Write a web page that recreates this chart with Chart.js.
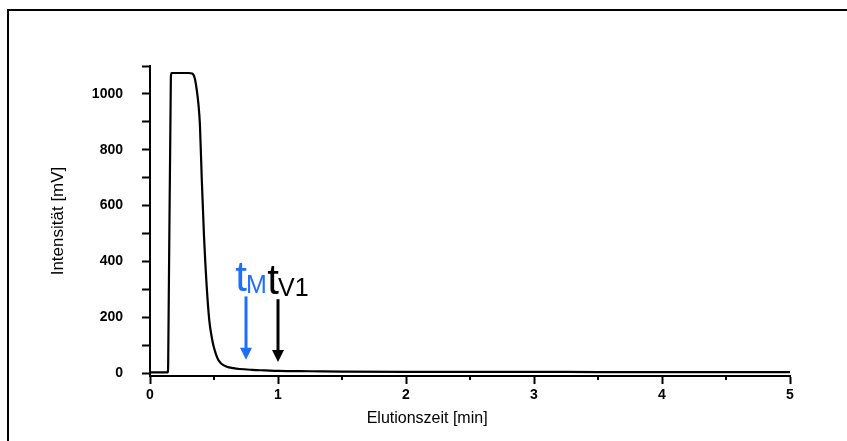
<!DOCTYPE html>
<html>
<head>
<meta charset="utf-8">
<script src="https://cdn.jsdelivr.net/npm/chart.js@4.4.1/dist/chart.umd.min.js"></script>
<style>
    html, body { margin: 0; padding: 0; background: #fff; }
    #wrap { position: relative; width: 847px; height: 441px; overflow: hidden; }
    #frame { position: absolute; left: 7px; top: 9px; width: 900px; height: 500px; border-left: 2px solid #000; border-top: 2px solid #000; }
    canvas { position: absolute; left: 0; top: 0; }
</style>
</head>
<body>
<div id="wrap">
    <div id="frame"></div>
    <canvas id="chart" width="847" height="441"></canvas>
</div>
<script>
// Elution curve
const elutionTime = [0, 0.05, 0.10, 0.138, 0.142, 0.163, 0.168, 0.20, 0.25, 0.30, 0.33, 0.35, 0.365, 0.378, 0.39, 0.404, 0.422, 0.443, 0.463, 0.48, 0.495, 0.515, 0.534, 0.56, 0.60, 0.65, 0.70, 0.80, 0.90, 1.0, 1.25, 1.5, 2.0, 2.5, 3.0, 3.5, 4.0, 4.5, 5.0];
const intensity   = [3, 3, 3, 3, 30, 1060, 1075, 1075, 1075, 1075, 1073, 1055, 1015, 965, 890, 700, 490, 310, 190, 135, 100, 68, 47, 33, 23, 18, 15, 12, 10, 8, 7, 6, 5, 5, 5, 4, 4, 4, 4];

// Axes
const xTicks = [0, 1, 2, 3, 4, 5];
const xMinorTicks = [0.5, 1.5, 2.5, 3.5, 4.5];
const yTicks = [0, 100, 200, 300, 400, 500, 600, 700, 800, 900, 1000, 1100];
const xTitle = 'Elutionszeit [min]';
const yTitle = 'Intensität [mV]';

// Marker arrows: t_M and t_V1
const markerTimes = [0.75, 1.0];
const markerTop = [275, 265];
const markerTip = [48, 40];
const markerSubs = ['M', 'V1'];
const markerColors = ['#1f6fff', '#000000'];

const FONT = '"Liberation Sans", Arial, sans-serif';

const extras = {
    id: 'extras',
    afterDraw(chart) {
        const ctx = chart.ctx;
        const xs = chart.scales.x;
        const ys = chart.scales.y;
        const area = chart.chartArea;
        ctx.save();

        // minor ticks on the x axis
        ctx.strokeStyle = '#000';
        ctx.lineWidth = 2;
        xMinorTicks.forEach(v => {
            const px = xs.getPixelForValue(v);
            ctx.beginPath();
            ctx.moveTo(px, area.bottom);
            ctx.lineTo(px, area.bottom + 4);
            ctx.stroke();
        });

        // x axis title
        ctx.fillStyle = '#000';
        ctx.font = '16px ' + FONT;
        ctx.textAlign = 'center';
        ctx.textBaseline = 'middle';
        ctx.fillText(xTitle, area.left + (area.right - area.left) * 0.433, 419);

        // arrows and labels
        markerTimes.forEach((t, i) => {
            const px = xs.getPixelForValue(t);
            const top = ys.getPixelForValue(markerTop[i]);
            const tip = ys.getPixelForValue(markerTip[i]);
            const head = 12;
            ctx.strokeStyle = markerColors[i];
            ctx.fillStyle = markerColors[i];
            ctx.lineWidth = 3;
            ctx.beginPath();
            ctx.moveTo(px, top);
            ctx.lineTo(px, tip - head + 1);
            ctx.stroke();
            ctx.beginPath();
            ctx.moveTo(px - 6, tip - head);
            ctx.lineTo(px + 6, tip - head);
            ctx.lineTo(px, tip);
            ctx.closePath();
            ctx.fill();

            ctx.textBaseline = 'alphabetic';
            ctx.font = '42px ' + FONT;
            ctx.textAlign = 'right';
            ctx.fillText('t', px + 1, top - 5);
            ctx.font = '25px ' + FONT;
            ctx.textAlign = 'left';
            ctx.fillText(markerSubs[i], px, top - 3);
        });
        ctx.restore();
    }
};

new Chart(document.getElementById('chart'), {
    type: 'line',
    data: {
        datasets: [{
            data: elutionTime.map((t, i) => ({ x: t, y: intensity[i] })),
            borderColor: '#000',
            borderWidth: 2.2,
            pointRadius: 0,
            fill: false,
            cubicInterpolationMode: 'monotone'
        }]
    },
    options: {
        responsive: false,
        animation: false,
        devicePixelRatio: 1,
        layout: { padding: { left: 48, right: 57, top: 66, bottom: 0 } },
        plugins: { legend: { display: false }, tooltip: { enabled: false } },
        scales: {
            x: {
                type: 'linear',
                min: 0,
                max: 5,
                afterBuildTicks: s => { s.ticks = xTicks.map(v => ({ value: v })); },
                afterFit: s => { s.height = 65; },
                border: { color: '#000', width: 2 },
                grid: { drawOnChartArea: false, drawTicks: true, tickLength: 8, tickColor: '#000', tickWidth: 2 },
                ticks: { color: '#000', font: { family: FONT, size: 14, weight: 'bold' }, padding: 3, maxRotation: 0 }
            },
            y: {
                type: 'linear',
                min: -10,
                max: 1100,
                afterBuildTicks: s => { s.ticks = yTicks.map(v => ({ value: v })); },
                afterFit: s => { s.width = 102; },
                border: { color: '#000', width: 2 },
                grid: { drawOnChartArea: false, drawTicks: true, tickLength: 8, tickColor: '#000', tickWidth: 2 },
                ticks: {
                    color: '#000',
                    font: { family: FONT, size: 14, weight: 'bold' },
                    padding: 19,
                    callback: v => (v % 200 === 0 ? v : '')
                },
                title: { display: true, text: yTitle, color: '#000', font: { family: FONT, size: 17 }, padding: { top: 0, bottom: 0 } }
            }
        }
    },
    plugins: [extras]
});
</script>
</body>
</html>
